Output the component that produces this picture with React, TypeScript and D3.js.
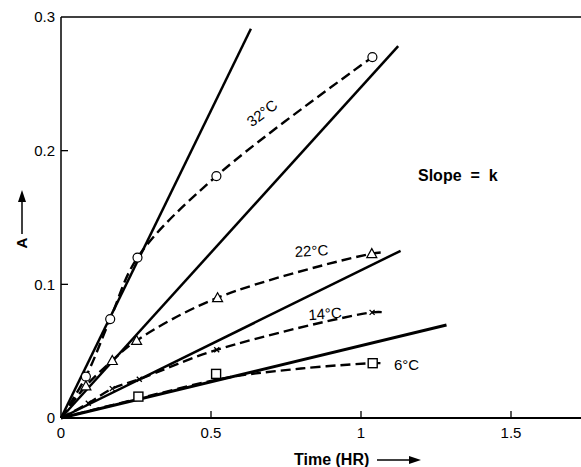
import React from 'react';
import * as d3 from 'd3';

// Solid "slope = k" lines: slope and end time
const lineSlopes = [0.46, 0.2475, 0.1105, 0.0541];
const lineEnds = [0.633, 1.124, 1.132, 1.285];

// Measured points (Time HR, A)
const t32 = [0.083, 0.164, 0.255, 0.518, 1.038];
const a32 = [0.031, 0.074, 0.12, 0.181, 0.27];
const t22 = [0.083, 0.171, 0.252, 0.522, 1.036];
const a22 = [0.024, 0.043, 0.058, 0.09, 0.123];
const t14 = [0.091, 0.171, 0.261, 0.519, 1.037];
const a14 = [0.011, 0.022, 0.029, 0.051, 0.079];
const t6 = [0.258, 0.517, 1.039];
const a6 = [0.016, 0.033, 0.041];

// Dashed fitted curves
const c32t = [0, 0.083, 0.164, 0.255, 0.518, 1.038];
const c32a = [0, 0.031, 0.074, 0.12, 0.181, 0.27];
const c22t = [0, 0.083, 0.171, 0.252, 0.522, 1.036, 1.08];
const c22a = [0, 0.024, 0.043, 0.058, 0.09, 0.123, 0.124];
const c14t = [0, 0.091, 0.171, 0.261, 0.519, 1.037, 1.08];
const c14a = [0, 0.011, 0.022, 0.029, 0.051, 0.079, 0.079];
const c6t = [0, 0.258, 0.55, 0.8, 1.039, 1.08];
const c6a = [0, 0.0145, 0.03, 0.037, 0.041, 0.041];

const xTicks = [0, 0.5, 1, 1.5];
const xTickLabels = ['0', '0.5', '1', '1.5'];
const yTicks = [0, 0.1, 0.2, 0.3];
const yTickLabels = ['0', '0.1', '0.2', '0.3'];

const tempLabels = ['32°C', '22°C', '14°C', '6°C'];
const tempLabelT = [0.67, 0.835, 0.88, 1.11];
const tempLabelA = [0.228, 0.125, 0.078, 0.04];
const tempLabelRot = [-37, -3, -4, 0];

const W = 581;
const H = 467;
const font = '"Liberation Sans", Arial, Helvetica, sans-serif';

export default function App() {
  const x = d3.scaleLinear().domain([0, 1.5]).range([61, 511]);
  const y = d3.scaleLinear().domain([0, 0.3]).range([418, 17]);
  const xMax = x.invert(W);

  const line = d3
    .line<[number, number]>()
    .x((d) => x(d[0]))
    .y((d) => y(d[1]))
    .curve(d3.curveCatmullRom.alpha(0.5));

  const zip = (a: number[], b: number[]) => a.map((v, i) => [v, b[i]] as [number, number]);
  const curves = [zip(c32t, c32a), zip(c22t, c22a), zip(c14t, c14a), zip(c6t, c6a)];
  const pts = [zip(t32, a32), zip(t22, a22), zip(t14, a14), zip(t6, a6)];

  const marker = (kind: number, px: number, py: number, key: string) => {
    if (kind === 0)
      return <circle key={key} cx={px} cy={py} r={4.5} fill="#fff" stroke="#000" strokeWidth={1.2} />;
    if (kind === 1)
      return (
        <path
          key={key}
          d={`M${px},${py - 5} L${px + 5},${py + 4} L${px - 5},${py + 4} Z`}
          fill="#fff"
          stroke="#000"
          strokeWidth={1.2}
        />
      );
    if (kind === 2)
      return (
        <g key={key} stroke="#000" strokeWidth={1.3}>
          <line x1={px - 2.5} y1={py - 2.5} x2={px + 2.5} y2={py + 2.5} />
          <line x1={px - 2.5} y1={py + 2.5} x2={px + 2.5} y2={py - 2.5} />
        </g>
      );
    return <rect key={key} x={px - 4.5} y={py - 4.5} width={9} height={9} fill="#fff" stroke="#000" strokeWidth={1.4} />;
  };

  return (
    <svg width={W} height={H} style={{ position: 'absolute', left: 0, top: 0, background: '#fff' }} fontFamily={font}>
      <rect x={0} y={0} width={W} height={H} fill="#fff" />
      {/* frame */}
      <line x1={x(0)} y1={y(0.3)} x2={W} y2={y(0.3)} stroke="#000" strokeWidth={1.5} />
      <line x1={x(0)} y1={y(0.3)} x2={x(0)} y2={y(0)} stroke="#000" strokeWidth={1.5} />
      <line x1={x(0)} y1={y(0)} x2={x(xMax)} y2={y(0)} stroke="#000" strokeWidth={2} />
      {/* ticks */}
      {yTicks.map((v, i) =>
        v > 0 && v < 0.3 ? <line key={'yt' + i} x1={x(0)} x2={x(0) + 7} y1={y(v)} y2={y(v)} stroke="#000" strokeWidth={1.3} /> : null
      )}
      {xTicks.map((v, i) =>
        v > 0 ? <line key={'xt' + i} x1={x(v)} x2={x(v)} y1={y(0)} y2={y(0) - 7} stroke="#000" strokeWidth={1.3} /> : null
      )}
      {yTicks.map((v, i) => (
        <text key={'yl' + i} x={x(0) - 6} y={y(v)} dy="0.35em" textAnchor="end" fontSize={15}>
          {yTickLabels[i]}
        </text>
      ))}
      {xTicks.map((v, i) => (
        <text key={'xl' + i} x={x(v)} y={y(0) + 20} textAnchor="middle" fontSize={15}>
          {xTickLabels[i]}
        </text>
      ))}
      {/* solid lines */}
      {lineSlopes.map((s, i) => (
        <line
          key={'sl' + i}
          x1={x(0)}
          y1={y(0)}
          x2={x(lineEnds[i])}
          y2={y(s * lineEnds[i])}
          stroke="#000"
          strokeWidth={i === 3 ? 3 : 2.5}
        />
      ))}
      {/* dashed curves */}
      {curves.map((c, i) => (
        <path key={'dc' + i} d={line(c) || ''} fill="none" stroke="#000" strokeWidth={2.4} strokeDasharray="10 5" />
      ))}
      {/* markers */}
      {pts.map((p, i) => p.map((d, j) => marker(i, x(d[0]), y(d[1]), `m${i}-${j}`)))}
      {/* temperature labels */}
      {tempLabels.map((t, i) => (
        <text
          key={'tl' + i}
          x={x(tempLabelT[i])}
          y={y(tempLabelA[i])}
          fontSize={15}
          textAnchor={i === 3 ? 'start' : 'middle'}
          dy="0.35em"
          transform={`rotate(${tempLabelRot[i]},${x(tempLabelT[i])},${y(tempLabelA[i])})`}
        >
          {t}
        </text>
      ))}
      <text x={418} y={175} dy="0.35em" fontSize={16} fontWeight="bold" style={{ whiteSpace: 'pre' }}>
        {'Slope  =  k'}
      </text>
      {/* axis titles */}
      <g>
        <text x={294} y={465} fontSize={16} fontWeight="bold">
          Time (HR)
        </text>
        <line x1={377} y1={460} x2={412} y2={460} stroke="#000" strokeWidth={1.5} />
        <path d="M421,460 L409,456 L409,464 Z" fill="#000" />
      </g>
      <g transform="translate(22,0)">
        <text transform="rotate(-90)" x={-243} y={5} textAnchor="middle" fontSize={15} fontWeight="bold">
          A
        </text>
        <line x1={0} y1={234} x2={0} y2={200} stroke="#000" strokeWidth={1.5} />
        <path d="M0,190 L-4,202 L4,202 Z" fill="#000" />
      </g>
    </svg>
  );
}
